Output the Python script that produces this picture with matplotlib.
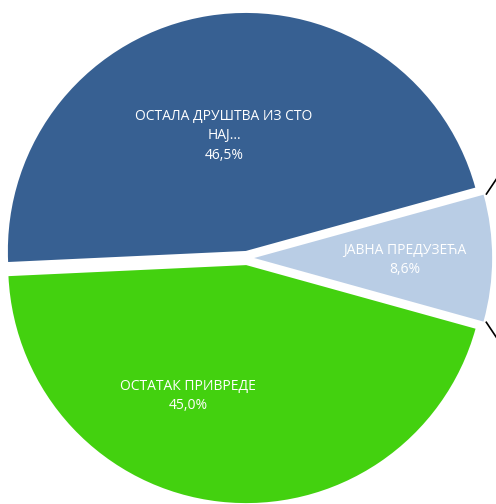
import numpy as np
import matplotlib
matplotlib.use('Agg')
import matplotlib.pyplot as plt

# slice data, in drawing order (counter-clockwise from the right)
labels = ['ЈАВНА ПРЕДУЗЕЋА', 'ОСТАЛА ДРУШТВА ИЗ СТО\nНАЈ...', 'ОСТАТАК ПРИВРЕДЕ']
shares = [8.6, 46.5, 45.0]
colors = ['#B9CDE5', '#376092', '#43D10F']

W, H = 496, 504
CX, CY, R = 247, 258, 238  # pie centre and radius in pixels


def px(x, y):
    # pixel position in the picture -> data coords of the pie
    return (x - CX) / R, (CY - y) / R


fig = plt.figure(figsize=(W / 100, H / 100), dpi=100)
ax = fig.add_axes([0, 0, 1, 1])

wedges, _ = ax.pie(shares, colors=colors, startangle=-15.5, explode=[0.03] * 3,
                   radius=1, wedgeprops=dict(linewidth=0))

ax.set_xlim(px(0, 0)[0], px(W, 0)[0])
ax.set_ylim(px(0, H)[1], px(0, 0)[1])
ax.set_aspect('equal')
ax.axis('off')

# leader lines sticking out at the corners of the small slice
sm = wedges[0]
for ang, sign in [(sm.theta2, 1), (sm.theta1, -1)]:
    x0 = sm.center[0] + np.cos(np.radians(ang)) + 0.01
    y0 = sm.center[1] + np.sin(np.radians(ang))
    ax.plot([x0, x0 + 0.06], [y0, y0 + sign * 0.09], color='black', lw=1.2,
            solid_capstyle='butt', clip_on=False)

pct = [f'{v:.1f}%'.replace('.', ',') for v in shares]
label_px = [(405, 260), (224, 136), (188, 396)]
for lab, p, (x, y) in zip(labels, pct, label_px):
    ax.text(*px(x, y), f'{lab}\n{p}', ha='center', va='center', color='white',
            fontsize=10, family='Open Sans', linespacing=1.42)

fig.savefig('out.png', dpi=100, facecolor='white')
